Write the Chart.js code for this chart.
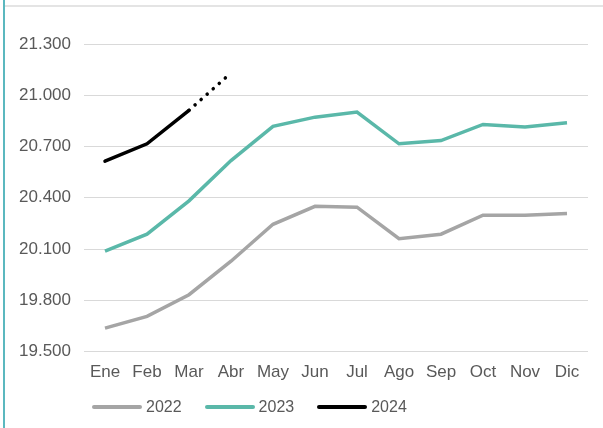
<!DOCTYPE html>
<html>
<head>
<meta charset="utf-8">
<script src="https://cdn.jsdelivr.net/npm/chart.js@4.4.1/dist/chart.umd.min.js"></script>
<style>
  body { margin: 0; background: #fff; }
  #wrap { position: relative; width: 603px; height: 428px; overflow: hidden; }
  #leftbar { position: absolute; left: 3px; top: 0; width: 2px; height: 428px; background: #5bb8bf; }
  #topbar { position: absolute; left: 5px; top: 5px; width: 598px; height: 2px; background: #e4e4e4; }
  #legend { position: absolute; left: 92px; top: 398px; display: flex; font: 16px "Liberation Sans", Arial, sans-serif; color: #595959; }
  #legend .item { display: flex; align-items: center; margin-right: 23px; }
  #legend .swatch { width: 50px; height: 4px; border-radius: 2px; margin-right: 4px; }
</style>
</head>
<body>
<div id="wrap">
  <canvas id="c" width="603" height="428"></canvas>
  <div id="leftbar"></div>
  <div id="topbar"></div>
  <div id="legend"></div>
</div>
<script>
// meses y valores
var meses = ["Ene","Feb","Mar","Abr","May","Jun","Jul","Ago","Sep","Oct","Nov","Dic"];
var serie2022 = [19637, 19706, 19833, 20029, 20245, 20350, 20345, 20161, 20187, 20298, 20298, 20308];
var serie2023 = [20088, 20187, 20382, 20618, 20818, 20872, 20902, 20716, 20735, 20829, 20814, 20839];
var serie2024 = [20614, 20716, 20912, 21131, null, null, null, null, null, null, null, null];
var yTicks = [19500, 19800, 20100, 20400, 20700, 21000, 21300];

var font = { family: "'Liberation Sans', Arial, sans-serif", size: 17 };

function fmt(v) {
  return String(v).replace(/\B(?=(\d{3})+(?!\d))/g, ".");
}

var ctx = document.getElementById("c").getContext("2d");
var chart = new Chart(ctx, {
  type: 'line',
  data: {
    labels: meses,
    datasets: [
      { label: "2022", data: serie2022, borderColor: "#a5a5a5", borderWidth: 3.5, pointRadius: 0 },
      { label: "2023", data: serie2023, borderColor: "#5ab8a9", borderWidth: 3.5, pointRadius: 0 },
      { label: "2024", data: serie2024, borderColor: "#000000", borderWidth: 3.5, pointRadius: 0,
        borderCapStyle: 'round',
        segment: { borderDash: function (c) { return c.p0DataIndex >= 2 ? [0.1, 8] : undefined; } } }
    ]
  },
  options: {
    responsive: false,
    animation: false,
    layout: { padding: { top: 44, right: 15, bottom: 42, left: 0 } },
    plugins: { legend: { display: false }, tooltip: { enabled: false } },
    scales: {
      x: {
        offset: true,
        grid: { display: false },
        border: { display: false },
        ticks: { font: font, color: "#595959", padding: 3, maxRotation: 0 }
      },
      y: {
        min: yTicks[0], max: yTicks[yTicks.length - 1],
        afterFit: function (s) { s.width = 84; },
        afterBuildTicks: function (s) { s.ticks = yTicks.map(function (v) { return { value: v }; }); },
        grid: { color: "#d9d9d9", lineWidth: 1, drawTicks: false },
        border: { display: false },
        ticks: { font: font, color: "#595959", padding: 13, callback: function (v) { return fmt(v); } }
      }
    }
  }
});

// leyenda en html con los colores de las series
var lg = document.getElementById("legend");
chart.data.datasets.forEach(function (d) {
  var it = document.createElement("div");
  it.className = "item";
  it.innerHTML = '<span class="swatch" style="background:' + d.borderColor + '"></span>' + d.label;
  lg.appendChild(it);
});
</script>
</body>
</html>
